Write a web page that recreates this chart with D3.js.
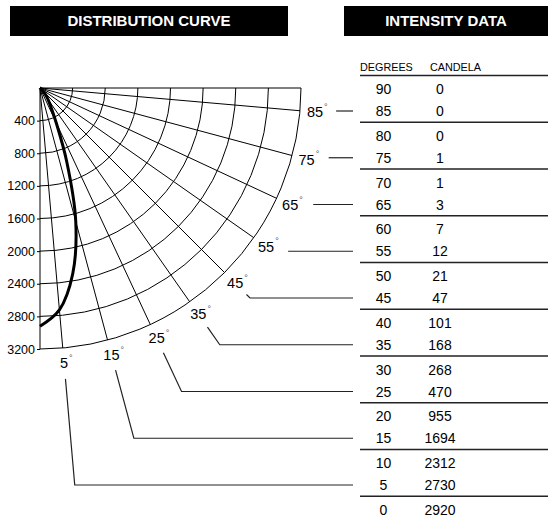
<!DOCTYPE html>
<html><head><meta charset="utf-8">
<script src="https://cdn.jsdelivr.net/npm/d3@7/dist/d3.min.js"></script>
<style>
body{margin:0;background:#fff;}
text{font-family:"Liberation Sans", Arial, Helvetica, sans-serif;}
</style>
</head><body>
<svg id="c" width="548" height="519"></svg>
<script>
// ---------- data ----------
const angles  = [90,85,80,75,70,65,60,55,50,45,40,35,30,25,20,15,10,5,0];
const candela = [0,0,0,1,1,3,7,12,21,47,101,168,268,470,955,1694,2312,2730,2920];
const radialTicks = [400,800,1200,1600,2000,2400,2800,3200];
const spokeAngles = [0,5,15,25,35,45,55,65,75,85,90];
const labelAngles = [85,75,65,55,45,35,25,15,5];
const titles = ["DISTRIBUTION CURVE","INTENSITY DATA"];
const columnHeads = ["DEGREES","CANDELA"];

// ---------- layout ----------
const svg = d3.select("#c");
const cx = 40, cy = 88, R = 261;
const rScale = d3.scaleLinear().domain([0,3200]).range([0,R]);
const rad = d => d*Math.PI/180;
const px = (deg, r) => cx + r*Math.sin(rad(deg));
const py = (deg, r) => cy + r*Math.cos(rad(deg));

// header bars
const bars = [{x:10,w:278},{x:344,w:204}];
bars.forEach((b,i)=>{
  svg.append("rect").attr("x",b.x).attr("y",6).attr("width",b.w).attr("height",30).attr("fill","#000");
  svg.append("text").attr("x",b.x+b.w/2).attr("y",21).attr("dy","0.36em")
    .attr("text-anchor","middle").attr("fill","#fff").attr("font-weight","bold")
    .attr("font-size",15).text(titles[i]);
});

// polar grid
const grid = svg.append("g").attr("stroke","#000").attr("fill","none").attr("stroke-width",1);
radialTicks.forEach(t=>{
  const p = d3.path();
  p.arc(cx, cy, rScale(t), 0, Math.PI/2);
  grid.append("path").attr("d", p.toString());
});
spokeAngles.forEach(a=>{
  grid.append("line").attr("x1",cx).attr("y1",cy)
    .attr("x2",px(a,R)).attr("y2",py(a,R));
});

// radial axis labels
const yScale = d3.scaleLinear().domain([0,3200]).range([cy, cy+R]);
const ax = svg.append("g").attr("transform",`translate(${cx},0)`)
  .call(d3.axisLeft(yScale).tickValues(radialTicks).tickSize(3).tickPadding(2).tickFormat(d3.format("d")));
ax.select(".domain").remove();
ax.selectAll("text").attr("font-size",12.5).attr("fill","#000").attr("font-family","Liberation Sans, Arial, sans-serif");
ax.selectAll("line").attr("stroke","#000");

// distribution curve
const pts = angles.map((a,i)=>[px(a, rScale(candela[i])), py(a, rScale(candela[i]))]);
svg.append("path").attr("d", d3.line().curve(d3.curveCatmullRom.alpha(0.5))(pts))
  .attr("fill","none").attr("stroke","#000").attr("stroke-width",3);

// table
const tx0 = 360, tx1 = 548, yH = 75.5, gh = 46.75;
const colDeg = 383.5, colCd = 440;
const rowY = i => yH + Math.floor(i/2)*gh + (i%2===0 ? 13.5 : 35.5);
svg.append("text").attr("x",360).attr("y",67).attr("dy","0.36em").attr("font-size",10.8).text(columnHeads[0]);
svg.append("text").attr("x",430).attr("y",67).attr("dy","0.36em").attr("font-size",10.8).text(columnHeads[1]);
for(let g=0; g<10; g++){
  svg.append("line").attr("x1",tx0).attr("x2",tx1).attr("y1",yH+g*gh).attr("y2",yH+g*gh)
    .attr("stroke","#222").attr("stroke-width",1.3);
}
angles.forEach((a,i)=>{
  svg.append("text").attr("x",colDeg).attr("y",rowY(i)).attr("dy","0.36em")
    .attr("text-anchor","middle").attr("font-size",14).text(a);
  svg.append("text").attr("x",colCd).attr("y",rowY(i)).attr("dy","0.36em")
    .attr("text-anchor","middle").attr("font-size",14).text(candela[i]);
});

// angle labels and leaders
const rLab = 276, r0 = 292, rH = 297, xEnd = 353;
labelAngles.forEach(a=>{
  const lx = px(a,rLab), ly = py(a,rLab);
  const t = svg.append("text").attr("x",lx).attr("y",ly).attr("dy","0.36em")
    .attr("text-anchor","middle").attr("font-size",14.5).text(a);
  const w = t.node().getComputedTextLength();
  svg.append("text").attr("x",lx+w/2+1).attr("y",ly-2).attr("font-size",9).attr("fill","#555").text("°");
  const ly2 = rowY(angles.indexOf(a));
  let d;
  const sy = py(a,r0);
  if (sy < ly2) {
    const rr = (ly2-cy)/Math.cos(rad(a));
    d = `M${px(a,r0)},${sy}L${px(a,rr)},${ly2}L${xEnd},${ly2}`;
  } else {
    const xs = cx + Math.sqrt(rH*rH - (ly2-cy)*(ly2-cy));
    d = `M${xs},${ly2}L${xEnd},${ly2}`;
  }
  svg.append("path").attr("d",d).attr("fill","none").attr("stroke","#222").attr("stroke-width",1.2);
});
</script>
</body></html>
